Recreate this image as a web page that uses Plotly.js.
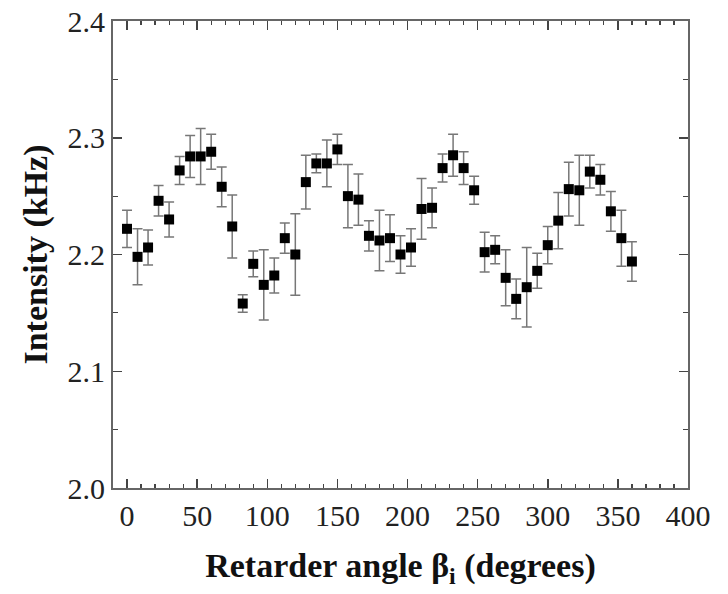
<!DOCTYPE html>
<html>
<head>
<meta charset="utf-8">
<script src="https://cdn.plot.ly/plotly-3.0.1.min.js"></script>
<style>html,body{margin:0;padding:0;background:#fff;}#chart{width:728px;height:594px;}</style>
</head>
<body>
<div id="chart"></div>
<script>
const angles = [0,7.5,15,22.5,30,37.5,45,52.5,60,67.5,75,82.5,90,97.5,105,112.5,120,127.5,135,142.5,150,157.5,165,172.5,180,187.5,195,202.5,210,217.5,225,232.5,240,247.5,255,262.5,270,277.5,285,292.5,300,307.5,315,322.5,330,337.5,345,352.5,360];
const intensity = [2.222,2.198,2.206,2.246,2.230,2.272,2.284,2.284,2.288,2.258,2.224,2.158,2.192,2.174,2.182,2.214,2.200,2.262,2.278,2.278,2.290,2.250,2.247,2.216,2.212,2.214,2.200,2.206,2.239,2.240,2.274,2.285,2.274,2.255,2.202,2.204,2.180,2.162,2.172,2.186,2.208,2.229,2.256,2.255,2.271,2.264,2.237,2.214,2.194];
const errors = [0.016,0.024,0.015,0.013,0.015,0.012,0.018,0.024,0.015,0.017,0.027,0.0075,0.011,0.030,0.015,0.013,0.035,0.023,0.008,0.020,0.013,0.027,0.022,0.013,0.026,0.020,0.016,0.016,0.026,0.017,0.012,0.018,0.014,0.012,0.017,0.012,0.024,0.017,0.034,0.015,0.016,0.024,0.023,0.030,0.014,0.013,0.017,0.024,0.017];
const xTickVals = [0,50,100,150,200,250,300,350,400];
const yTickVals = [2.0,2.1,2.2,2.3,2.4];
const yTickText = ['2.0','2.1','2.2','2.3','2.4'];

const serif = 'Liberation Serif, Times New Roman, serif';
const trace = {
  x: angles, y: intensity, type: 'scatter', mode: 'markers',
  marker: {symbol: 'square', size: 10, color: '#000'},
  error_y: {type: 'data', array: errors, visible: true, color: '#777', thickness: 1.5, width: 5},
  showlegend: false
};
const axisCommon = {
  showline: true, linecolor: '#666', linewidth: 2, mirror: 'ticks',
  ticks: 'inside', ticklen: 9, tickwidth: 1.5, tickcolor: '#444',
  showgrid: false, zeroline: false,
  tickfont: {family: serif, size: 30, color: '#222'}
};
const layout = {
  width: 728, height: 594,
  margin: {l: 113, r: 40, t: 21, b: 106},
  paper_bgcolor: '#fff', plot_bgcolor: '#fff',
  xaxis: Object.assign({}, axisCommon, {
    range: [-10, 400], tickvals: xTickVals,
    minor: {dtick: 10, ticks: 'inside', ticklen: 4, tickcolor: '#444', tickwidth: 1.2},
    title: {text: 'Retarder angle β<sub>i</sub> (degrees)', standoff: 22,
      font: {family: serif, size: 34, color: '#111', weight: 'bold'}}
  }),
  yaxis: Object.assign({}, axisCommon, {
    range: [2.0, 2.4], tickvals: yTickVals, ticktext: yTickText,
    minor: {dtick: 0.05, ticks: 'inside', ticklen: 5, tickcolor: '#444', tickwidth: 1.2},
    title: {text: 'Intensity (kHz)', standoff: 10,
      font: {family: serif, size: 34, color: '#111', weight: 'bold'}}
  })
};
Plotly.newPlot('chart', [trace], layout, {displayModeBar: false, staticPlot: true});
</script>
</body>
</html>
